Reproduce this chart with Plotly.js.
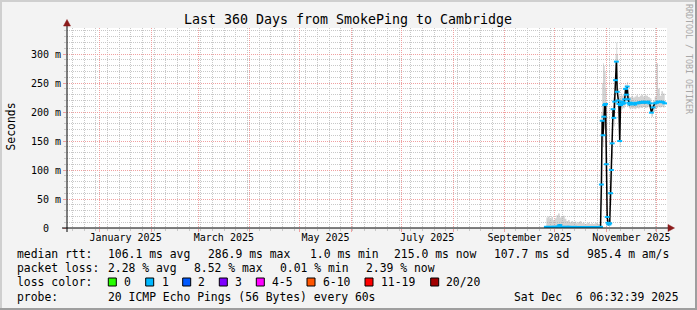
<!DOCTYPE html>
<html><head><meta charset="utf-8">
<script src="https://cdn.plot.ly/plotly-3.0.1.min.js"></script>
<style>html,body{margin:0;padding:0;background:#f3f3f3;}#chart{width:697px;height:310px;}</style>
</head><body><div id="chart"></div>
<script>
// ---------- data ----------
const dates = [
'2025-09-26','2025-09-27','2025-09-28','2025-09-29','2025-09-30',
'2025-10-01','2025-10-02','2025-10-03','2025-10-04','2025-10-05','2025-10-06','2025-10-07','2025-10-08','2025-10-09',
'2025-10-10','2025-10-11','2025-10-12','2025-10-13','2025-10-14','2025-10-15','2025-10-16','2025-10-17','2025-10-18',
'2025-10-19','2025-10-20','2025-10-21','2025-10-22','2025-10-23','2025-10-24','2025-10-25','2025-10-26','2025-10-27',
'2025-10-28 00:00','2025-10-28 12:00','2025-10-29 00:00','2025-10-29 12:00','2025-10-30 00:00','2025-10-30 12:00',
'2025-10-31 00:00','2025-10-31 12:00','2025-11-01 00:00','2025-11-01 12:00','2025-11-02 00:00','2025-11-02 12:00',
'2025-11-03 00:00','2025-11-03 12:00','2025-11-04 00:00','2025-11-04 12:00','2025-11-05 00:00','2025-11-05 12:00',
'2025-11-06 00:00','2025-11-06 12:00','2025-11-07 00:00','2025-11-07 12:00','2025-11-08 00:00','2025-11-08 12:00',
'2025-11-09 00:00','2025-11-09 12:00','2025-11-10 00:00','2025-11-10 12:00','2025-11-11 00:00','2025-11-11 12:00',
'2025-11-12 00:00','2025-11-12 12:00','2025-11-13 00:00','2025-11-13 12:00','2025-11-14 00:00','2025-11-14 12:00',
'2025-11-15 00:00',
'2025-11-16','2025-11-17','2025-11-18','2025-11-19','2025-11-20','2025-11-21','2025-11-22','2025-11-23','2025-11-24',
'2025-11-25','2025-11-26','2025-11-27','2025-11-28','2025-11-29','2025-11-30',
'2025-12-01','2025-12-02','2025-12-03','2025-12-04','2025-12-05','2025-12-06'
];
// median rtt in ms
const medianRtt = [
2, 2, 1.5, 2, 2,
2, 2, 2.5, 5, 2, 2, 1.5, 2, 2, 2, 1.5, 1.5, 2, 1.5, 1.5, 1, 1.5, 1.5, 1.5, 1.5, 1.5, 1.5, 1.5, 1.5, 1.5, 1.5, 1.5,
1.5, 2, 75, 185, 160, 192, 212, 214, 110, 19, 9, 6, 8, 60, 100, 146, 205, 190, 218, 255, 287, 235, 220, 214, 150, 212,
218, 214, 217, 215, 222, 240, 230, 244, 222, 216, 213,
216, 214, 213, 216, 215, 217, 216, 218, 216, 217, 218, 215, 199, 208, 215, 216, 218, 217, 218, 217, 215
];
// smoke envelope (ms)
const smokeHi = [
18, 20, 16, 19, 14,
17, 22, 25, 18, 20, 21, 16, 12, 14, 10, 12, 9, 11, 8, 10, 12, 8, 9, 7, 8, 9, 7, 8, 7, 8, 9, 7,
7, 7, 200, 250, 284, 280, 270, 240, 215, 30, 15, 12, 14, 80, 130, 170, 225, 230, 260, 300, 320, 300, 240, 230, 225, 228,
232, 228, 230, 226, 235, 248, 246, 252, 238, 228, 226,
228, 225, 227, 229, 226, 228, 230, 227, 229, 228, 226, 224, 212, 220, 226, 284, 240, 228, 236, 232, 228
];
const smokeLo = [
1, 1, 1, 1, 1,
1, 1, 1, 1, 1, 1, 1, 1, 1, 1, 1, 1, 1, 1, 1, 1, 1, 1, 1, 1, 1, 1, 1, 1, 1, 1, 1,
1, 1, 40, 150, 140, 170, 200, 205, 60, 8, 5, 4, 5, 40, 80, 120, 185, 175, 205, 230, 260, 215, 208, 205, 140, 203,
208, 205, 207, 206, 210, 225, 218, 230, 210, 207, 205,
207, 206, 205, 207, 206, 208, 207, 209, 207, 208, 209, 206, 192, 200, 207, 207, 209, 208, 209, 208, 207
];
const monthTickVals = ['2025-01-16 12:00','2025-03-16 12:00','2025-05-16 12:00','2025-07-16 12:00','2025-09-16 00:00','2025-11-16 00:00'];
const monthTickText = ['January 2025','March 2025','May 2025','July 2025','September 2025','November 2025'];
const monthStarts = ['2025-01-01','2025-02-01','2025-03-01','2025-04-01','2025-05-01','2025-06-01','2025-07-01',
  '2025-08-01','2025-09-01','2025-10-01','2025-11-01','2025-12-01'];
const yTickVals = [0, 50, 100, 150, 200, 250, 300];
const yTickText = ['0\u00a0\u00a0', '50 m', '100 m', '150 m', '200 m', '250 m', '300 m'];
const rttLabel = 'median rtt:';
const rttStats = ['106.1 ms avg', '286.9 ms max', '1.0 ms min', '215.0 ms now', '107.7 ms sd', '985.4 m am/s'];
const lossLabel = 'packet loss:';
const lossStats = ['2.28 % avg', '8.52 % max', '0.01 % min', '2.39 % now'];
const lossColorLabel = 'loss color:';
const lossBuckets = ['0', '1', '2', '3', '4-5', '6-10', '11-19', '20/20'];
const lossColors = ['#26ff00', '#00b8ff', '#0059ff', '#7e00ff', '#ff00ff', '#ff5500', '#ff0000', '#a10000'];
const probeLabel = 'probe:';
const probeText = '20 ICMP Echo Pings (56 Bytes) every 60s';
const stampText = 'Sat Dec \u00a06 06:32:39 2025';
const titleText = 'Last 360 Days from SmokePing to Cambridge';

// ---------- layout helpers ----------
const START = '2024-12-12 09:00', END = '2025-12-07 09:00';
const L = 67, T = 28, W = 600, H = 200;
const px = v => (v - L) / W;
const py = v => (T + H - v) / H;
const MONO = 'DejaVu Sans Mono';
const MGRID = '#f0a0a0';
const GRID = '#c8c8c8';
const ARROW = '#8b1a1a';

const weekGrid = [];
for (let t = Date.UTC(2024, 11, 15, 18); t < Date.UTC(2025, 11, 8); t += 7 * 86400000) {
  weekGrid.push(new Date(t).toISOString().slice(0, 19).replace('T', ' '));
}
const yMinor = [];
for (let v = 10; v < 345; v += 10) if (v % 50) yMinor.push(v);

const traces = [
  {x: dates, y: smokeLo, mode: 'lines', line: {width: 0, shape: 'hv'}, hoverinfo: 'skip', showlegend: false},
  {x: dates, y: smokeHi, mode: 'lines', line: {width: 0, shape: 'hv'}, fill: 'tonexty',
   fillcolor: 'rgba(165,165,165,0.5)', hoverinfo: 'skip', showlegend: false},
  {x: dates, y: medianRtt, mode: 'lines', line: {color: '#000000', width: 1.5}, showlegend: false},
  {x: dates, y: medianRtt, xaxis: 'x2', mode: 'markers', marker: {symbol: 'line-ew', size: 3.5, color: lossColors[1],
   line: {width: 2, color: lossColors[1]}}, showlegend: false}
];

const annotations = [];
function txt(text, x, y, opts) {
  annotations.push(Object.assign({text: text, x: px(x), y: py(y), xref: 'paper', yref: 'paper',
    showarrow: false, xanchor: 'left', yanchor: 'middle', borderpad: 0,
    font: {family: MONO, size: 11.4, color: '#000'}}, opts || {}));
}
txt('Seconds', 10.5, 127, {xanchor: 'center', textangle: -90});
txt('RRDTOOL / TOBI OETIKER', 688.5, 58.5, {xanchor: 'center', textangle: 90, font: {family: MONO, size: 8.3, color: '#a8a8a8'}});
const rowY = [254, 268.3, 282, 296.5];
txt(rttLabel, 16, rowY[0]);
const rttX = [107.3, 207.3, 309, 393.3, 493.3, 586];
rttStats.forEach((s, i) => txt(s, rttX[i], rowY[0]));
txt(lossLabel, 16, rowY[1]);
const lossX = [107.3, 193.3, 279.3, 365];
lossStats.forEach((s, i) => txt(s, lossX[i], rowY[1]));
txt(lossColorLabel, 16, rowY[2]);
const boxX = [108.3, 145.7, 182.7, 219.3, 256.3, 307, 365, 430.7];
const boxLblX = [123.3, 160.7, 197.3, 234.3, 271, 322, 380, 445.3];
lossBuckets.forEach((s, i) => txt(s, boxLblX[i], rowY[2]));
txt(probeLabel, 16, rowY[3]);
txt(probeText, 107.3, rowY[3]);
txt(stampText, 680, rowY[3], {xanchor: 'right'});

const shapes = [];
lossColors.forEach((c, i) => shapes.push({type: 'rect', xref: 'paper', yref: 'paper',
  x0: px(boxX[i]), x1: px(boxX[i] + 8), y0: py(278), y1: py(286), fillcolor: c, line: {color: '#000', width: 1}}));
shapes.push({type: 'rect', xref: 'paper', yref: 'paper', x0: px(0), x1: px(2), y0: py(310), y1: py(0), fillcolor: '#cfcfcf', line: {width: 0}});
shapes.push({type: 'rect', xref: 'paper', yref: 'paper', x0: px(0), x1: px(697), y0: py(2), y1: py(0), fillcolor: '#cfcfcf', line: {width: 0}});
shapes.push({type: 'rect', xref: 'paper', yref: 'paper', x0: px(695), x1: px(697), y0: py(310), y1: py(0), fillcolor: '#9e9e9e', line: {width: 0}});
shapes.push({type: 'rect', xref: 'paper', yref: 'paper', x0: px(0), x1: px(697), y0: py(310), y1: py(308), fillcolor: '#9e9e9e', line: {width: 0}});
shapes.push({type: 'line', xref: 'paper', yref: 'paper', x0: px(67), x1: px(67), y0: py(232), y1: py(25), line: {color: '#000', width: 1}, layer: 'above'});
shapes.push({type: 'line', xref: 'paper', yref: 'paper', x0: px(62), x1: px(668), y0: py(228), y1: py(228), line: {color: '#000', width: 1}, layer: 'above'});
shapes.push({type: 'path', xref: 'paper', yref: 'paper', layer: 'above',
  path: `M ${px(63.5)},${py(26)} L ${px(70.5)},${py(26)} L ${px(67)},${py(19.5)} Z`, fillcolor: ARROW, line: {color: ARROW, width: 0.5}});
shapes.push({type: 'path', xref: 'paper', yref: 'paper', layer: 'above',
  path: `M ${px(668)},${py(224.5)} L ${px(668)},${py(231.5)} L ${px(674.5)},${py(228)} Z`, fillcolor: ARROW, line: {color: ARROW, width: 0.5}});

const layout = {
  width: 697, height: 310,
  margin: {l: L, r: 697 - L - W, t: T, b: 310 - T - H, pad: 0},
  paper_bgcolor: '#f3f3f3', plot_bgcolor: '#ffffff',
  showlegend: false,
  font: {family: MONO, size: 10, color: '#000'},
  title: {text: titleText, font: {family: MONO, size: 13.3, color: '#000'},
    x: 348 / 697, xref: 'container', xanchor: 'center', y: 1 - 19 / 310, yref: 'container', yanchor: 'middle'},
  xaxis: {type: 'date', range: [START, END], tickmode: 'array', tickvals: monthStarts, showgrid: true,
    gridcolor: MGRID, griddash: '1px,1px', gridwidth: 1, ticks: 'outside', ticklen: 3, tickcolor: MGRID,
    showticklabels: false, showline: false, zeroline: false, fixedrange: true,
    minor: {tickmode: 'array', tickvals: weekGrid, showgrid: true, gridcolor: GRID, griddash: '1px,1px',
      ticks: 'outside', ticklen: 2, tickcolor: GRID}},
  xaxis2: {type: 'date', overlaying: 'x', anchor: 'y', side: 'bottom', range: [START, END], tickmode: 'array',
    tickvals: monthTickVals, ticktext: monthTickText, showgrid: false, ticks: '', showline: false, zeroline: false,
    fixedrange: true, tickfont: {family: MONO, size: 10, color: '#000'}, ticklabelstandoff: 2},
  yaxis: {range: [0, 345], tickmode: 'array', tickvals: yTickVals, ticktext: yTickText, showgrid: true,
    gridcolor: MGRID, griddash: '1px,1px', ticks: 'outside', ticklen: 3, tickcolor: MGRID, zeroline: false,
    showline: false, fixedrange: true, tickfont: {family: MONO, size: 10, color: '#000'},
    minor: {tickmode: 'array', tickvals: yMinor, showgrid: true, gridcolor: GRID, griddash: '1px,1px',
      ticks: 'outside', ticklen: 2, tickcolor: GRID}},
  annotations: annotations,
  shapes: shapes
};
Plotly.newPlot('chart', traces, layout, {staticPlot: true, displayModeBar: false});
</script>
</body></html>
